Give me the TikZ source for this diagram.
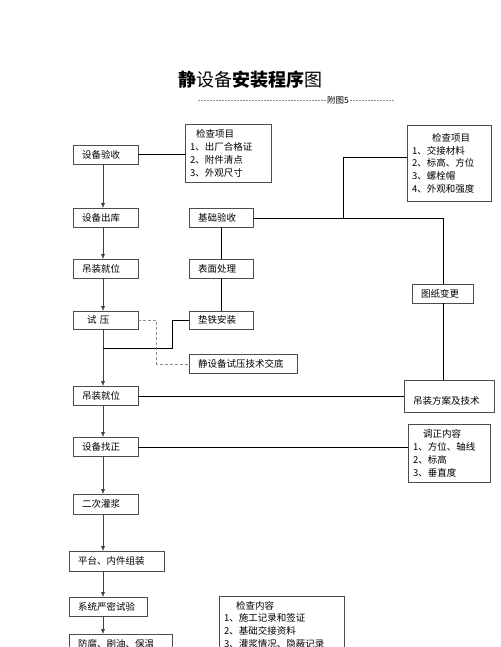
\documentclass[tikz,border=0pt]{standalone}
\usepackage{fontspec}
\setmainfont{Noto Sans CJK SC}
\usetikzlibrary{scopes,arrows.meta}

\begin{document}
\begin{tikzpicture}[
    x=1pt, y=-1pt,
    stage/.style={draw=black!70,thin,anchor=north west,minimum height=19pt,inner xsep=9pt,inner ysep=0pt,text width=#1,align=left,font=\fontsize{9.5}{12.8}\selectfont},
    memo/.style={draw=black!70,thin,anchor=north west,inner xsep=5pt,inner ysep=0pt,text width=#1,align=left,font=\fontsize{9.5}{12.8}\selectfont},
    flow/.style={>={Latex[length=5pt,width=4pt]},draw=black!75,->},
    link/.style={draw=black!75},
    hint/.style={densely dashed,draw=black!45},
]
    \path[fill=white,use as bounding box] (0,0) rectangle (500,647);
    \clip (0,0) rectangle (500,647);

    %%%
    % Title
    \node[font=\fontsize{18}{18}\selectfont] (title) at (250,80) {\textbf{静}设备\textbf{安装程序}图};
    \node[font=\fontsize{8.5}{9}\selectfont,inner sep=1pt] (annex) at (338,100) {附图5};
    \coordinate (rulel) at (198,100);
    \coordinate (ruler) at (395,100);
    \draw[hint,very thin,dash pattern=on 2pt off 1pt] (rulel) -- (annex.west) (annex.east) -- (ruler);

    %%%
    % Main line
    \node[stage=47pt] (accept) at (73,145) {设备验收};
    \node[stage=47pt] (issue) at (73,208) {设备出库};
    \node[stage=47pt] (hoist) at (73,259) {吊装就位};
    \node[stage=47pt,minimum height=18pt] (ptest) at (73,311) {\hspace*{5pt}试 压};
    \node[stage=47pt] (place) at (73,386) {吊装就位};
    \node[stage=47pt] (level) at (73,437) {设备找正};
    \node[stage=47pt,minimum height=20pt] (grout) at (73,494) {二次灌浆};
    \node[stage=77pt,minimum height=20pt] (assy) at (69,551) {平台、内件组装};
    \node[stage=60pt] (tight) at (69,597) {系统严密试验};
    \node[stage=85pt,minimum height=20pt] (coat) at (69,634) {防腐、刷油、保温};

    %%%
    % Foundation line
    \node[stage=46pt] (base) at (189,208) {基础验收};
    \node[stage=46pt] (face) at (189,259) {表面处理};
    \node[stage=46pt,minimum height=18pt] (shim) at (189,311) {垫铁安装};
    \node[stage=90pt] (brief) at (189,354) {静设备试压技术交底};
    \node[stage=43pt] (redraw) at (412,284) {图纸变更};
    \node[stage=72pt,minimum height=32pt,text height=17pt,text depth=0pt] (plan) at (404,380) {吊装方案及技术};

    % check lists
    \node[memo=76pt,minimum height=58pt] (check1) at (185,124) {\hspace*{6pt}检查项目\\1、出厂合格证\\2、附件清点\\3、外观尺寸};
    \node[memo=74pt,minimum height=76pt] (check2) at (407,125) {\hspace*{20pt}检查项目\\1、交接材料\\2、标高、方位\\3、螺栓帽\\4、外观和强度};
    \node[memo=72pt,minimum height=58pt] (adjust) at (408,424) {\hspace*{10pt}调正内容\\1、方位、轴线\\2、标高\\3、垂直度};
    \node[memo=115pt,minimum height=57pt] (check3) at (219,596) {\hspace*{12pt}检查内容\\1、施工记录和签证\\2、基础交接资料\\3、灌浆情况、隐蔽记录};

    %%%
    % Connectors
    \coordinate (spine) at (103,0);
    \coordinate (knee) at (343,0);
    \coordinate (merge) at (103,348);
    \foreach \a/\b in {accept/issue,issue/hoist,hoist/ptest,ptest/place,place/level,level/grout,grout/assy,assy/tight,tight/coat}
    \draw[flow] (\a.south -| spine) -- (\b.north -| spine);
    {[flow]
        \draw (base) -- (face);
        \draw (face) -- (shim);
        \draw (shim.west) -- ++(-17,0) |- (merge);
    }
    {[link]
        \draw (accept.east) -- (accept.east -| check1.west);
        \draw (base.east) -| (redraw.north);
        \draw ([yshift=6pt]check2.west) -| (base.east -| knee);
        \draw (redraw.south) -- (redraw.south |- plan.north);
        \draw (place.east) -- (place.east -| plan.west);
        \draw (level.east) -- (level.east -| adjust.west);
    }
    \draw[hint] (ptest.east) -- ++(18,0) |- (brief.west);

\end{tikzpicture}
\end{document}
